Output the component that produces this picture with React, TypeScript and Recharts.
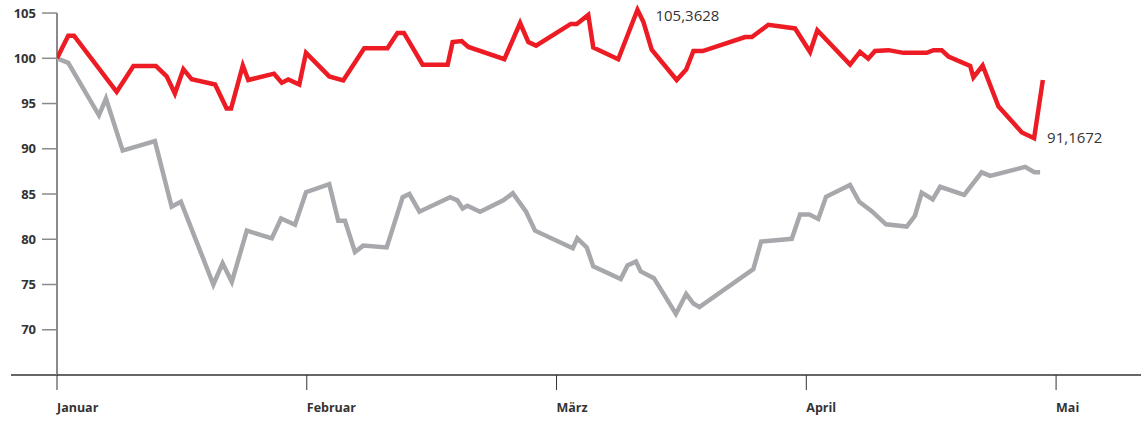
import React from 'react';
import { LineChart, Line, XAxis, YAxis, ReferenceLine } from 'recharts';

// x position in months from start of January (ticks are evenly spaced per month)
const monthLabels = ['Januar', 'Februar', 'März', 'April', 'Mai'];
const monthTicks = [0, 1, 2, 3, 4];
const valueTicks = [70, 75, 80, 85, 90, 95, 100, 105];

const redT = [
  0, 0.045, 0.068, 0.239, 0.306, 0.396, 0.439, 0.472, 0.506, 0.539, 0.633, 0.679, 0.697, 0.744, 0.766,
  0.869, 0.9, 0.926, 0.97, 0.997, 1.09, 1.146, 1.23, 1.323, 1.363, 1.389, 1.464, 1.564, 1.584, 1.62,
  1.647, 1.791, 1.854, 1.887, 1.918, 2.057, 2.081, 2.127, 2.147, 2.247, 2.324, 2.348, 2.381, 2.481,
  2.519, 2.548, 2.585, 2.755, 2.782, 2.848, 2.955, 3.015, 3.044, 3.175, 3.215, 3.248, 3.275, 3.329,
  3.389, 3.482, 3.509, 3.542, 3.569, 3.656, 3.669, 3.706, 3.769, 3.863, 3.912, 3.947,
];
const redValues = [
  100, 102.5, 102.5, 96.3, 99.15, 99.15, 98.0, 96.1, 98.8, 97.7, 97.1, 94.45, 94.45, 99.2, 97.6,
  98.3, 97.3, 97.65, 97.1, 100.6, 98.0, 97.55, 101.1, 101.1, 102.8, 102.8, 99.3, 99.3, 101.8, 101.9,
  101.25, 99.9, 103.9, 101.8, 101.4, 103.8, 103.8, 104.8, 101.2, 99.9, 105.3628, 104.0, 100.96, 97.6,
  98.75, 100.8, 100.8, 102.35, 102.35, 103.7, 103.3, 100.7, 103.1, 99.3, 100.7, 99.95, 100.8, 100.9,
  100.6, 100.6, 100.9, 100.9, 100.2, 99.15, 97.9, 99.2, 94.7, 91.8, 91.1672, 97.6,
];

const greyT = [
  0, 0.045, 0.168, 0.196, 0.263, 0.392, 0.459, 0.496, 0.626, 0.663, 0.7, 0.76, 0.86, 0.897, 0.953,
  0.997, 1.09, 1.126, 1.153, 1.193, 1.226, 1.32, 1.384, 1.411, 1.451, 1.574, 1.603, 1.624, 1.643,
  1.694, 1.787, 1.825, 1.878, 1.914, 2.065, 2.083, 2.121, 2.147, 2.257, 2.284, 2.318, 2.337, 2.39,
  2.478, 2.519, 2.548, 2.572, 2.788, 2.819, 2.942, 2.975, 3.012, 3.048, 3.079, 3.175, 3.212, 3.262,
  3.319, 3.402, 3.435, 3.462, 3.506, 3.536, 3.632, 3.702, 3.736, 3.876, 3.913, 3.936,
];
const greyValues = [
  100, 99.5, 93.7, 95.55, 89.8, 90.85, 83.6, 84.15, 75.0, 77.35, 75.3, 80.95, 80.1, 82.3, 81.6,
  85.2, 86.1, 82.05, 82.05, 78.6, 79.3, 79.1, 84.65, 85.0, 83.05, 84.65, 84.3, 83.4, 83.7,
  83.05, 84.3, 85.1, 83.05, 80.95, 79.0, 80.1, 79.1, 77.0, 75.6, 77.1, 77.55, 76.45, 75.7,
  71.75, 73.95, 72.9, 72.5, 76.7, 79.75, 80.05, 82.75, 82.75, 82.25, 84.7, 86.0, 84.15, 83.1,
  81.65, 81.4, 82.6, 85.15, 84.4, 85.8, 84.9, 87.4, 87.0, 88.0, 87.4, 87.4,
];

const redData = redT.map((t, i) => ({ t, v: redValues[i] }));
const greyData = greyT.map((t, i) => ({ t, v: greyValues[i] }));

const redMax = Math.max(...redValues);
const redMin = Math.min(...redValues);

const FONT = "'Open Sans', 'Noto Sans', sans-serif";

const fmt = (v: number) => v.toFixed(4).replace('.', ',');

const RedLabel = (props: any) => {
  const { x, y, index } = props;
  const v = redValues[index];
  if (v !== redMax && v !== redMin) return null;
  const isMax = v === redMax;
  return (
    <text
      x={x + (isMax ? 18 : 13)}
      y={y + (isMax ? 11 : 5)}
      fill="#333"
      fontSize={15}
      fontFamily={FONT}
    >
      {fmt(v)}
    </text>
  );
};

const MonthTick = (props: any) => {
  const { x, y, payload } = props;
  return (
    <text x={x} y={y} dy={22} fill="#333" fontSize={12.5} fontWeight={700} fontFamily={FONT} textAnchor="start">
      {monthLabels[payload.value]}
    </text>
  );
};

export default function App() {
  return (
    <div style={{ position: 'absolute', left: 0, top: 0, width: 1141, height: 431, background: '#fff' }}>
      <LineChart
        width={1141}
        height={431}
        margin={{ top: 4, right: 0, bottom: 0, left: 11 }}
      >
        <XAxis
          type="number"
          dataKey="t"
          domain={[0, 4.34]}
          ticks={monthTicks}
          allowDataOverflow
          height={56}
          tickSize={15}
          tickMargin={0}
          stroke="#333"
          strokeWidth={1.5}
          tickLine={{ stroke: '#333', strokeWidth: 1 }}
          tick={<MonthTick />}
        />
        <YAxis
          type="number"
          domain={[65, 106]}
          ticks={valueTicks}
          allowDataOverflow
          width={46}
          axisLine={false}
          tickSize={15}
          tickMargin={6}
          tickLine={{ stroke: '#8a8a8a', strokeWidth: 1.5 }}
          tick={{ fill: '#333', fontSize: 13, fontWeight: 700, fontFamily: FONT }}
        />
        <ReferenceLine
          segment={[{ x: -0.184, y: 65 }, { x: 0, y: 65 }]}
          stroke="#333"
          strokeWidth={1.5}
          ifOverflow="visible"
        />
        <ReferenceLine
          segment={[{ x: 0, y: 65 }, { x: 0, y: 105 }]}
          stroke="#8a8a8a"
          strokeWidth={2}
          ifOverflow="visible"
        />
        <Line
          data={greyData}
          dataKey="v"
          stroke="#a7a8ab"
          strokeWidth={4.5}
          dot={false}
          isAnimationActive={false}
        />
        <Line
          data={redData}
          dataKey="v"
          stroke="#ed1c24"
          strokeWidth={4.5}
          dot={false}
          label={<RedLabel />}
          isAnimationActive={false}
        />
      </LineChart>
    </div>
  );
}
